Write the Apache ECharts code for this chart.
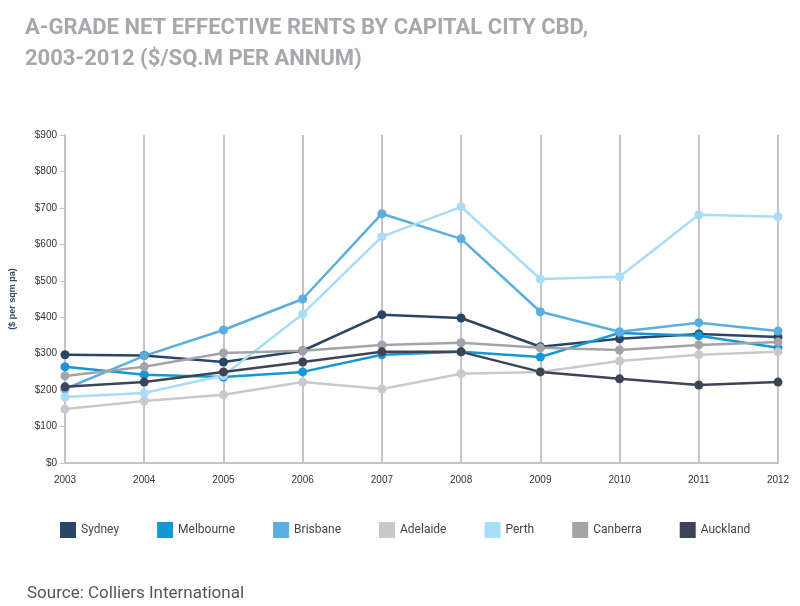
<!DOCTYPE html>
<html>
<head>
<meta charset="utf-8">
<script src="https://cdn.jsdelivr.net/npm/echarts@6/dist/echarts.min.js"></script>
<style>body{margin:0;background:#fff}#main{width:800px;height:606px}</style>
</head>
<body>
<div id="main"></div>
<script type="text/javascript">
// data
var years = ['2003','2004','2005','2006','2007','2008','2009','2010','2011','2012'];
var sydney    = [297, 295, 277, 308, 407, 398, 319, 341, 354, 346];
var melbourne = [264, 242, 236, 250, 297, 305, 291, 357, 349, 316];
var brisbane  = [203, 294, 365, 450, 684, 615, 415, 360, 385, 362];
var adelaide  = [148, 170, 187, 222, 203, 245, 250, 280, 297, 305];
var perth     = [181, 192, 240, 409, 621, 703, 505, 511, 681, 676];
var canberra  = [239, 264, 302, 308, 324, 330, 316, 310, 324, 332];
var auckland  = [209, 222, 250, 277, 305, 305, 250, 231, 214, 222];

var myChart = echarts.init(document.getElementById('main'));

function line(name, data, color) {
  return {
    name: name, type: 'line', data: data, symbol: 'circle', symbolSize: 9,
    lineStyle: {color: color, width: 2.5}, itemStyle: {color: color}
  };
}

var option = {
  backgroundColor: '#fff',
  animation: false,
  title: [{
    text: 'A-GRADE NET EFFECTIVE RENTS BY CAPITAL CITY CBD,\n2003-2012 ($/SQ.M PER ANNUM)',
    left: 20, top: 8,
    textStyle: {color: '#a6a8ab', fontSize: 22, fontWeight: 'bold', fontFamily: 'Roboto', lineHeight: 31}
  }, {
    text: 'Source: Colliers International',
    left: 22, top: 580,
    textStyle: {color: '#555', fontSize: 17, fontWeight: 'normal', fontFamily: 'Roboto'}
  }],
  legend: {
    left: 55, top: 517, itemGap: 38, itemWidth: 16, itemHeight: 16, icon: 'rect',
    textStyle: {color: '#444', fontSize: 12, fontFamily: 'Roboto'},
    data: ['Sydney','Melbourne','Brisbane','Adelaide','Perth','Canberra','Auckland']
  },
  grid: {left: 63, right: 22, top: 135, bottom: 143},
  xAxis: {
    type: 'category', data: years, boundaryGap: false,
    axisLine: {lineStyle: {color: '#c4c5c9', width: 2}},
    axisTick: {show: false},
    splitLine: {show: true, lineStyle: {color: '#c4c5c9', width: 2}},
    axisLabel: {color: '#333', fontSize: 10, margin: 12}
  },
  yAxis: {
    type: 'value', min: 0, max: 900, interval: 100,
    name: '($ per sqm pa)', nameLocation: 'middle', nameGap: 48,
    nameTextStyle: {color: '#2d4a6b', fontSize: 9, fontWeight: 'bold'},
    axisLine: {show: true, lineStyle: {color: '#c4c5c9', width: 2}},
    axisTick: {show: true, length: 5, lineStyle: {color: '#c4c5c9'}},
    splitLine: {show: false},
    axisLabel: {color: '#333', fontSize: 10, formatter: '${value}'}
  },
  series: [
    line('Sydney', sydney, '#2a4666'),
    line('Melbourne', melbourne, '#1497d6'),
    line('Brisbane', brisbane, '#5aaee0'),
    line('Adelaide', adelaide, '#c8c9cc'),
    line('Perth', perth, '#a9dcf7'),
    line('Canberra', canberra, '#a3a4a8'),
    line('Auckland', auckland, '#3d4456')
  ]
};

myChart.setOption(option);
</script>
</body>
</html>
